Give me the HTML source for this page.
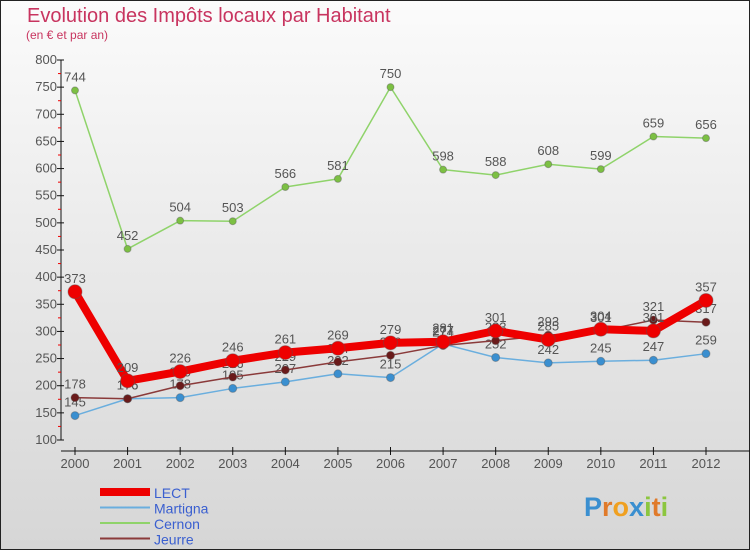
<!DOCTYPE html>
<html><head><meta charset="utf-8"><style>
body{margin:0;width:750px;height:550px;overflow:hidden;font-family:"Liberation Sans",sans-serif}
svg{display:block}
</style></head><body>
<svg width="750" height="550" viewBox="0 0 750 550">
<defs><linearGradient id="bg" x1="0" y1="0" x2="0" y2="1"><stop offset="0" stop-color="#fbfbfb"/><stop offset="1" stop-color="#d6d6d6"/></linearGradient></defs>
<rect x="0.5" y="0.5" width="749" height="549" fill="url(#bg)" stroke="#222"/>
<text x="27" y="22" font-size="20" fill="#c8345f">Evolution des Impôts locaux par Habitant</text>
<text x="26" y="39" font-size="12" fill="#c8345f">(en € et par an)</text>
<g id="axes"></g><g id="series"></g><g id="legend"></g>
<text x="584" y="516" font-size="27" font-weight="bold"><tspan fill="#3a8fd0">P</tspan><tspan fill="#e07a2a">r</tspan><tspan fill="#f0a020">o</tspan><tspan fill="#3a8fd0">x</tspan><tspan fill="#8cc63f">i</tspan><tspan fill="#e07a2a">t</tspan><tspan fill="#8cc63f">i</tspan></text>
</svg>
<script>
const years=[2000,2001,2002,2003,2004,2005,2006,2007,2008,2009,2010,2011,2012];
const lect=[373,209,226,246,261,269,279,281,301,285,304,301,357];
const martigna=[145,176,178,195,207,222,215,277,252,242,245,247,259];
const cernon=[744,452,504,503,566,581,750,598,588,608,599,659,656];
const jeurre=[178,176,200,216,229,244,256,274,283,293,301,321,317];
const yTicks=[100,150,200,250,300,350,400,450,500,550,600,650,700,750,800];
const NS="http://www.w3.org/2000/svg";
const x=i=>75+i*(706-75)/12;
const y=v=>440-(v-100)*380/700;
function mk(t,a,p){const e=document.createElementNS(NS,t);for(const k in a)e.setAttribute(k,a[k]);p.appendChild(e);return e;}
const ax=document.getElementById('axes');
const yl=mk('line',{x1:61,y1:60,x2:61,y2:440,stroke:'#111'},ax);


const xl=mk('line',{x1:61,y1:451,x2:750,y2:451,stroke:'#111'},ax);


yTicks.forEach(v=>{mk('line',{x1:57,y1:y(v),x2:64,y2:y(v),stroke:'#111'},ax);
if(v<800)mk('line',{x1:58,y1:y(v+25),x2:61,y2:y(v+25),stroke:'#e00'},ax);
const t=mk('text',{x:57,y:y(v)+4,'font-size':13,fill:'#555','text-anchor':'end'},ax);t.textContent=v;

});
years.forEach((yr,i)=>{mk('line',{x1:x(i),y1:447,x2:x(i),y2:455,stroke:'#111'},ax);
const t=mk('text',{x:x(i),y:468,'font-size':13,fill:'#555','text-anchor':'middle'},ax);t.textContent=yr;

});
const sg=document.getElementById('series');
const S=[{n:'cernon',d:cernon,c:'#8fd36a',w:1.5,r:3.5,dc:'#7cc043'},{n:'martigna',d:martigna,c:'#6aaede',w:1.5,r:4,dc:'#3a8fd0'},{n:'jeurre',d:jeurre,c:'#8a3a3a',w:1.5,r:4,dc:'#6a1a1a'},{n:'lect',d:lect,c:'#ee0000',w:8,r:7,dc:'#ee0000'}];
S.forEach(s=>{const g=mk('g',{},sg);


mk('polyline',{points:s.d.map((v,i)=>x(i)+','+y(v)).join(' '),fill:'none',stroke:s.c,'stroke-width':s.w,'stroke-linejoin':'round'},g);
s.d.forEach((v,i)=>{const c=mk('circle',{cx:x(i),cy:y(v),r:s.r,fill:s.dc,stroke:'#555','stroke-opacity':.4},g);


const t=mk('text',{x:x(i),y:y(v)-9,'font-size':13,fill:'#555','text-anchor':'middle'},g);t.textContent=v;});});
const lg=document.getElementById('legend');
[['LECT','#ee0000',8],['Martigna','#6aaede',2],['Cernon','#8fd36a',2],['Jeurre','#8a3a3a',2]].forEach((l,i)=>{
const yy=492+i*15.5;const g=mk('g',{},lg);


mk('line',{x1:100,y1:yy,x2:150,y2:yy,stroke:l[1],'stroke-width':l[2]},g);
const t=mk('text',{x:154,y:yy+6,'font-size':14,fill:'#3a5fd0'},g);t.textContent=l[0];});
</script>
</body></html>
